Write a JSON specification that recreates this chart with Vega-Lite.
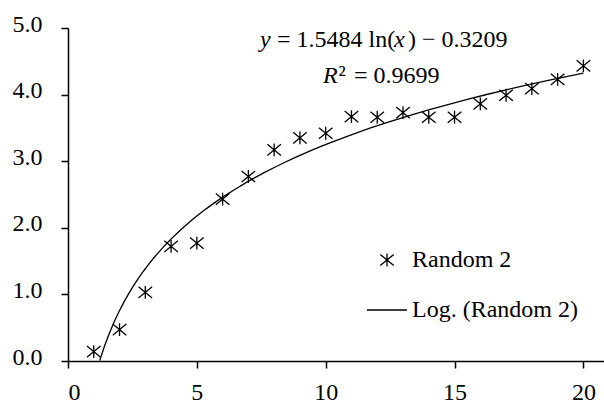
{
  "$schema": "https://vega.github.io/schema/vega-lite/v6.json",
  "width": 536,
  "height": 333,
  "autosize": {"type": "none"},
  "padding": {"left": 68, "top": 28, "right": 0, "bottom": 43},
  "background": "white",
  "config": {"view": {"stroke": null}, "font": "Liberation Serif"},
  "data": {"values": [
    {"x": 1, "y": 0.14}, {"x": 2, "y": 0.47}, {"x": 3, "y": 1.03}, {"x": 4, "y": 1.72},
    {"x": 5, "y": 1.77}, {"x": 6, "y": 2.43}, {"x": 7, "y": 2.77}, {"x": 8, "y": 3.17},
    {"x": 9, "y": 3.35}, {"x": 10, "y": 3.42}, {"x": 11, "y": 3.67}, {"x": 12, "y": 3.66},
    {"x": 13, "y": 3.73}, {"x": 14, "y": 3.66}, {"x": 15, "y": 3.66}, {"x": 16, "y": 3.86},
    {"x": 17, "y": 3.99}, {"x": 18, "y": 4.09}, {"x": 19, "y": 4.23}, {"x": 20, "y": 4.43}
  ]},
  "layer": [
    {
      "mark": {"type": "point", "filled": false, "color": "black", "strokeWidth": 1.3, "size": 1600, "opacity": 1},
      "encoding": {
        "x": {"field": "x", "type": "quantitative",
          "scale": {"domain": [0, 20.8], "nice": false, "zero": false},
          "axis": {"values": [0, 5, 10, 15, 20], "title": null, "grid": false,
            "domainColor": "black", "domainWidth": 1.5, "tickColor": "black", "tickWidth": 1.5, "tickSize": 7,
            "labelFont": "Liberation Serif", "labelFontSize": 24, "labelColor": "black", "labelPadding": 12}},
        "y": {"field": "y", "type": "quantitative",
          "scale": {"domain": [0, 5], "nice": false},
          "axis": {"values": [0, 1, 2, 3, 4, 5], "format": ".1f", "title": null, "grid": false,
            "domainColor": "black", "domainWidth": 1.5, "tickColor": "black", "tickWidth": 1.5, "tickSize": 7,
            "labelFont": "Liberation Serif", "labelFontSize": 24, "labelColor": "black", "labelPadding": 19, "labelOffset": -4}},
        "shape": {"datum": "Random 2", "type": "nominal",
          "scale": {"domain": ["Random 2", "Log. (Random 2)"],
            "range": ["M0,-0.32L0,0.32M-0.34,-0.28L0.34,0.28M-0.34,0.28L0.34,-0.28", "stroke"]},
          "legend": {"title": null, "orient": "none", "legendX": 298, "legendY": 211, "padding": 0,
            "symbolSize": 1600, "symbolStrokeWidth": 1.3, "symbolStrokeColor": "black", "symbolFillColor": "transparent",
            "labelFont": "Liberation Serif", "labelFontSize": 24, "labelColor": "black", "labelOffset": 4,
            "labelLimit": 400, "rowPadding": 17}}
      }
    },
    {
      "transform": [{"regression": "y", "on": "x", "method": "log", "extent": [1.23, 20]}],
      "mark": {"type": "line", "color": "black", "strokeWidth": 1.3},
      "encoding": {
        "x": {"field": "x", "type": "quantitative"},
        "y": {"field": "y", "type": "quantitative"}
      }
    },
    {
      "data": {"values": [{}]},
      "mark": {"type": "text", "text": "y", "align": "left", "baseline": "alphabetic", "fontSize": 24, "fontStyle": "italic", "font": "Liberation Serif", "color": "black"},
      "encoding": {"x": {"datum": 7.45}, "y": {"datum": 4.715}}
    },
    {
      "data": {"values": [{}]},
      "mark": {"type": "text", "text": "= 1.5484 ln(", "align": "left", "baseline": "alphabetic", "fontSize": 24, "font": "Liberation Serif", "color": "black"},
      "encoding": {"x": {"datum": 8.11}, "y": {"datum": 4.715}}
    },
    {
      "data": {"values": [{}]},
      "mark": {"type": "text", "text": "x", "align": "left", "baseline": "alphabetic", "fontSize": 24, "fontStyle": "italic", "font": "Liberation Serif", "color": "black"},
      "encoding": {"x": {"datum": 12.651}, "y": {"datum": 4.715}}
    },
    {
      "data": {"values": [{}]},
      "mark": {"type": "text", "text": ") − 0.3209", "align": "left", "baseline": "alphabetic", "fontSize": 24, "font": "Liberation Serif", "color": "black"},
      "encoding": {"x": {"datum": 13.194}, "y": {"datum": 4.715}}
    },
    {
      "data": {"values": [{}]},
      "mark": {"type": "text", "text": "R", "align": "left", "baseline": "alphabetic", "fontSize": 24, "fontStyle": "italic", "font": "Liberation Serif", "color": "black"},
      "encoding": {"x": {"datum": 9.896}, "y": {"datum": 4.174}}
    },
    {
      "data": {"values": [{}]},
      "mark": {"type": "text", "text": "²", "align": "left", "baseline": "alphabetic", "fontSize": 24, "font": "Liberation Serif", "color": "black"},
      "encoding": {"x": {"datum": 10.5}, "y": {"datum": 4.174}}
    },
    {
      "data": {"values": [{}]},
      "mark": {"type": "text", "text": "= 0.9699", "align": "left", "baseline": "alphabetic", "fontSize": 24, "font": "Liberation Serif", "color": "black"},
      "encoding": {"x": {"datum": 11.099}, "y": {"datum": 4.174}}
    }
  ]
}
